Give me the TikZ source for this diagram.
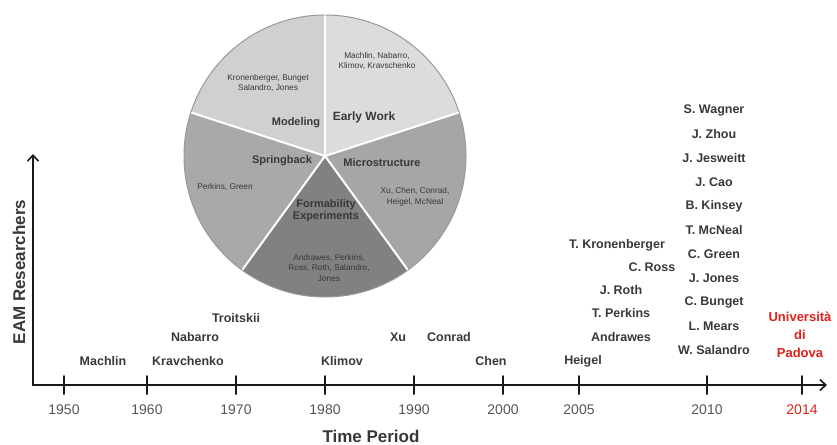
\documentclass[tikz,border=0pt]{standalone}
\usepackage{fontspec}
\setmainfont{Liberation Sans}
\usepackage{tikz}
\usetikzlibrary{arrows.meta}
\definecolor{earlygray}{HTML}{DCDCDC}
\definecolor{modelgray}{HTML}{D0D0D0}
\definecolor{springgray}{HTML}{A9A9A9}
\definecolor{microgray}{HTML}{A6A6A6}
\definecolor{formgray}{HTML}{818181}
\definecolor{namegray}{HTML}{383838}
\definecolor{tickgray}{HTML}{555555}
\definecolor{padovared}{HTML}{E0201B}

\begin{document}
\begin{tikzpicture}[x=1pt,y=-1pt,line cap=round,line join=round,
    >={Straight Barb[length=6pt,width=11pt,line width=1.6pt]},
    axisline/.style={line width=2pt,color=black!90},
    researcher/.style={font=\bfseries\fontsize{12.5}{14}\selectfont,text=namegray,inner sep=0pt},
    yearlabel/.style={font=\fontsize{14}{16}\selectfont,text=tickgray,inner sep=0pt},
    topic/.style={font=\bfseries\fontsize{11}{12}\selectfont,text=namegray,inner sep=0pt,align=center},
    authors/.style={font=\fontsize{8.3}{10.5}\selectfont,text=namegray,inner sep=0pt,align=center}]
    \useasboundingbox (0,0) rectangle (837,444);
    % pie of topics
    \begin{scope}[shift={(325,156)},y=1pt]
      \foreach \a/\b/\c in {90/18/earlygray,18/-54/microgray,-54/-126/formgray,-126/-198/springgray,162/90/modelgray}
        \fill[\c] (0,0) -- (\a:141) arc[start angle=\a,end angle=\b,radius=141] -- cycle;
      \draw[gray!80,line width=1pt] (0,0) circle (141);
      \foreach \a in {90,18,-54,-126,162}
        \draw[white,line width=2pt] (0,0) -- (\a:140);
    \end{scope}
    \node[authors] (earlynames) at (377,61) {Machlin, Nabarro,\\Klimov, Kravschenko};
    \node[topic,font=\bfseries\fontsize{12}{13}\selectfont] (early) at (364,117) {Early Work};
    \node[authors] (modelnames) at (268,83) {Kronenberger, Bunget\\Salandro, Jones};
    \node[topic] (model) at (296,123) {Modeling};
    \node[topic] (spring) at (282,161) {Springback};
    \node[topic] (micro) at (382,163) {Microstructure};
    \node[authors] (springnames) at (225,187) {Perkins, Green};
    \node[authors] (micronames) at (415,197) {Xu, Chen, Conrad,\\Heigel, McNeal};
    \node[topic] (form) at (326,211) {Formability\\Experiments};
    \node[authors] (formnames) at (329,268) {Andrawes, Perkins,\\Ross, Roth, Salandro,\\Jones};
    % axes
    \coordinate (origin) at (33,385);
    \coordinate (xend) at (827,385);
    \coordinate (yend) at (33,154);
    \draw[axisline,->] (origin) -- (xend);
    \draw[axisline,->] (origin) -- (yend);
    \foreach \x/\yr in {64/1950,147/1960,236/1970,325/1980,414/1990,503/2000,579/2005,707/2010}
    {
      \draw[axisline] (\x,376) -- (\x,394);
      \node[yearlabel] (y\yr) at (\x,410) {\yr};
    }
    \draw[axisline] (802,376) -- (802,394);
    \node[yearlabel,text=padovared] (y2014) at (802,410) {2014};
    \node[font=\bfseries\fontsize{17}{19}\selectfont,text=namegray] (xlabel) at (371,436) {Time Period};
    \node[font=\bfseries\fontsize{17}{19}\selectfont,text=namegray,rotate=90] (ylabel) at (19,272) {EAM Researchers};
    % researchers along the time line
    \node[researcher] (machlin) at (103,361) {Machlin};
    \node[researcher] (kravchenko) at (188,361) {Kravchenko};
    \node[researcher] (nabarro) at (195,337) {Nabarro};
    \node[researcher] (troitskii) at (236,318) {Troitskii};
    \node[researcher] (klimov) at (342,361) {Klimov};
    \node[researcher] (xu) at (398,337) {Xu};
    \node[researcher] (conrad) at (449,337) {Conrad};
    \node[researcher] (chen) at (491,361) {Chen};
    \node[researcher] (heigel) at (583,361) {Heigel};
    \node[researcher] (andrawes) at (621,337) {Andrawes};
    \node[researcher] (perkins) at (621,313) {T. Perkins};
    \node[researcher] (roth) at (621,290) {J. Roth};
    \node[researcher] (ross) at (652,267) {C. Ross};
    \node[researcher] (kronenberger) at (617,245) {T. Kronenberger};
    \foreach \n [count=\i] in {S. Wagner,J. Zhou,J. Jesweitt,J. Cao,B. Kinsey,T. McNeal,C. Green,J. Jones,C. Bunget,L. Mears,W. Salandro}
      \node[researcher] (r\i) at (714,86+24*\i) {\n};
    \node[researcher,text=padovared,align=center,font=\bfseries\fontsize{13}{18}\selectfont] (padova) at (800,335) {Università\\di\\Padova};
\end{tikzpicture}
\end{document}
